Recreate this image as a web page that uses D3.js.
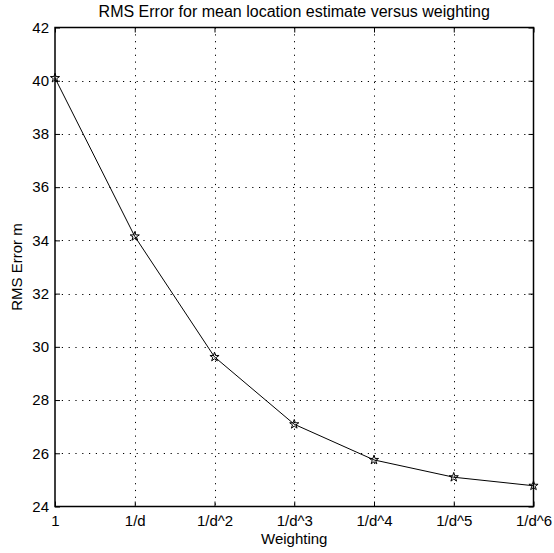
<!DOCTYPE html>
<html>
<head>
<meta charset="utf-8">
<script src="https://cdn.jsdelivr.net/npm/d3@7"></script>
<style>
  body { margin: 0; background: #fff; }
  text { font-family: "Liberation Sans", Arial, sans-serif; }
</style>
</head>
<body>
<svg id="chart"></svg>
<script>
const weightings = ["1", "1/d", "1/d^2", "1/d^3", "1/d^4", "1/d^5", "1/d^6"];
const rmsError = [40.1, 34.15, 29.62, 27.09, 25.75, 25.1, 24.78];
const yTicks = [24, 26, 28, 30, 32, 34, 36, 38, 40, 42];

const width = 554;
const height = 553;
const margin = { top: 27.5, right: 20.5, bottom: 46.5, left: 55 };

const svg = d3.select("#chart")
    .attr("width", width)
    .attr("height", height);

const x = d3.scalePoint()
    .domain(weightings)
    .range([margin.left, width - margin.right]);

const y = d3.scaleLinear()
    .domain([24, 42])
    .range([height - margin.bottom, margin.top]);

const plotW = width - margin.left - margin.right;
const plotH = height - margin.top - margin.bottom;

// Dotted grid
const grid = svg.append("g").attr("stroke", "#000").attr("stroke-width", 1)
    .attr("stroke-dasharray", "1.2,5.6");
weightings.slice(1, -1).forEach(w => {
    grid.append("line")
        .attr("x1", Math.round(x(w)) + 0.5).attr("x2", Math.round(x(w)) + 0.5)
        .attr("y1", margin.top).attr("y2", height - margin.bottom);
});
yTicks.slice(1, -1).forEach(t => {
    grid.append("line")
        .attr("x1", margin.left).attr("x2", width - margin.right)
        .attr("y1", Math.round(y(t)) + 0.5).attr("y2", Math.round(y(t)) + 0.5);
});

// Axes (ticks inward, on all sides)
const fontSize = "15px";
const bottomAxis = svg.append("g")
    .attr("transform", `translate(0,${height - margin.bottom})`)
    .call(d3.axisBottom(x).tickSizeInner(-5).tickSizeOuter(0).tickPadding(8.5));
const topAxis = svg.append("g")
    .attr("transform", `translate(0,${margin.top})`)
    .call(d3.axisTop(x).tickSizeInner(-5).tickSizeOuter(0).tickFormat(""));
const leftAxis = svg.append("g")
    .attr("transform", `translate(${margin.left},0)`)
    .call(d3.axisLeft(y).tickValues(yTicks).tickSizeInner(-5).tickSizeOuter(0).tickPadding(6).tickFormat(d3.format("d")));
const rightAxis = svg.append("g")
    .attr("transform", `translate(${width - margin.right},0)`)
    .call(d3.axisRight(y).tickValues(yTicks).tickSizeInner(-5).tickSizeOuter(0).tickFormat(""));

[bottomAxis, topAxis, leftAxis, rightAxis].forEach(a => {
    a.select(".domain").remove();
    a.selectAll("line").attr("stroke", "#000");
    a.selectAll("text").attr("fill", "#000").style("font-size", fontSize);
});
bottomAxis.selectAll("text").attr("dy", "0.71em");

// Box
svg.append("rect")
    .attr("x", margin.left).attr("y", margin.top)
    .attr("width", plotW).attr("height", plotH)
    .attr("fill", "none").attr("stroke", "#000").attr("stroke-width", 1.5);

// Line
const line = d3.line()
    .x((d, i) => x(weightings[i]))
    .y(d => y(d));

svg.append("path")
    .datum(rmsError)
    .attr("d", line)
    .attr("fill", "none")
    .attr("stroke", "#000")
    .attr("stroke-width", 1);

// Star markers
const star = d3.symbol().type(d3.symbolStar).size(26);
svg.append("g").selectAll("path")
    .data(rmsError)
    .join("path")
    .attr("transform", (d, i) => `translate(${x(weightings[i])},${y(d)})`)
    .attr("d", star)
    .attr("fill", "none")
    .attr("stroke", "#000")
    .attr("stroke-width", 1);

// Title and labels
svg.append("text")
    .attr("x", margin.left + plotW / 2)
    .attr("y", 17)
    .attr("text-anchor", "middle")
    .style("font-size", "16px")
    .text("RMS Error for mean location estimate versus weighting");

svg.append("text")
    .attr("x", margin.left + plotW / 2)
    .attr("y", 544)
    .attr("text-anchor", "middle")
    .style("font-size", fontSize)
    .text("Weighting");

svg.append("text")
    .attr("transform", `translate(22,${margin.top + plotH / 2}) rotate(-90)`)
    .attr("text-anchor", "middle")
    .style("font-size", fontSize)
    .text("RMS Error m");
</script>
</body>
</html>
